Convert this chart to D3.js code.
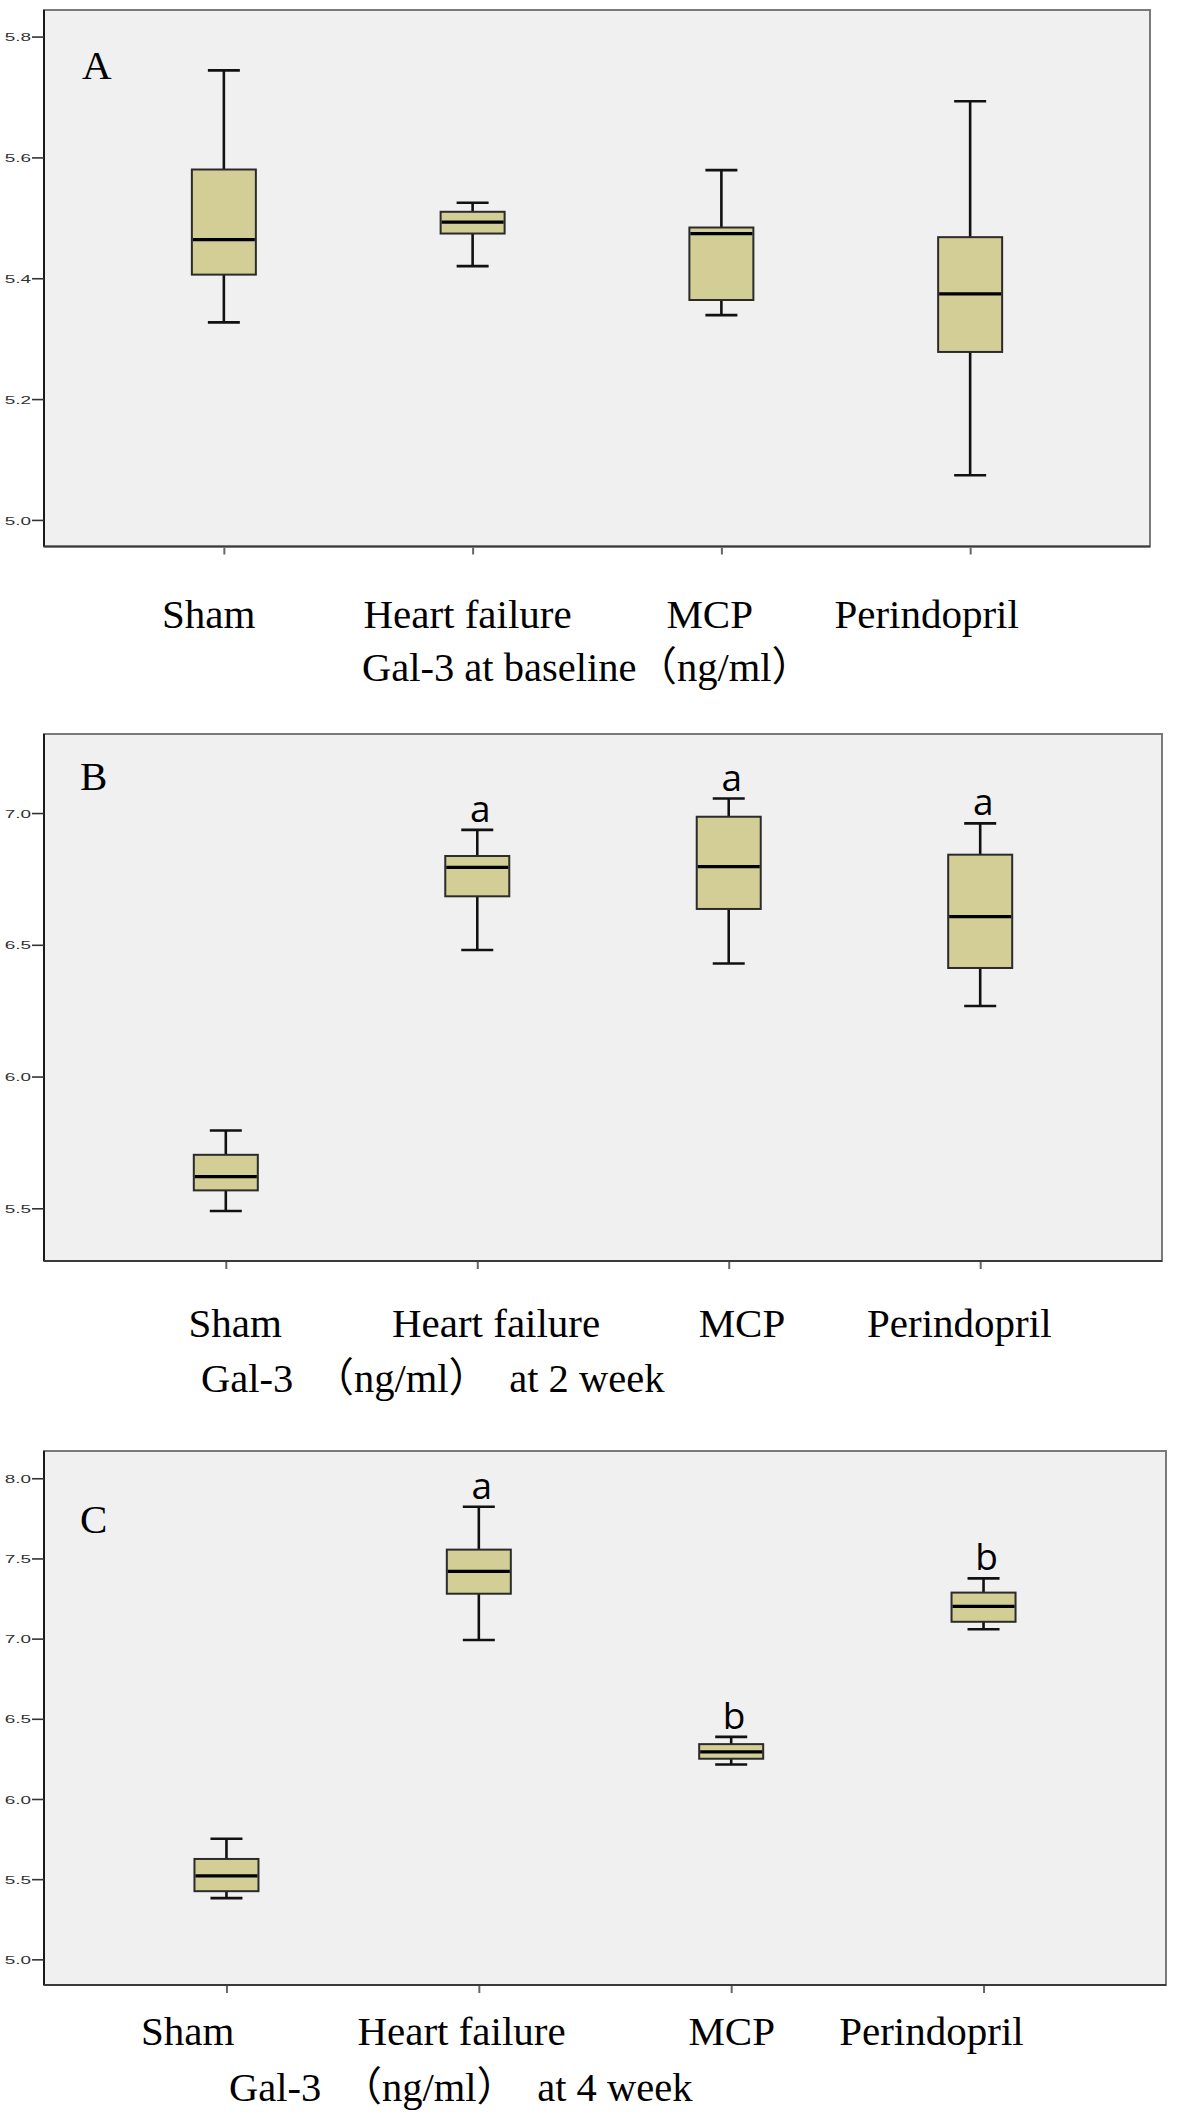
<!DOCTYPE html>
<html>
<head>
<meta charset="utf-8">
<title>Gal-3 box plots</title>
<script src="https://d3js.org/d3.v7.min.js"></script>
<style>
  * { margin: 0; padding: 0; }
  body { background: #fff; }
  .axis-title { white-space: pre; }
</style>
</head>
<body>
<div id="chart"></div>
<script>
// groups and panel texts
const categories = ["Sham", "Heart failure", "MCP", "Perindopril"];
const panelLetters = ["A", "B", "C"];
const axisTitles = ["Gal-3 at baseline（ng/ml）", "Gal-3  （ng/ml）  at 2 week", "Gal-3  （ng/ml）  at 4 week"];

// box statistics (min whisker, Q1, median, Q3, max whisker)
const lowA = [5.327, 5.420, 5.339, 5.074];
const q1A  = [5.406, 5.474, 5.364, 5.278];
const medA = [5.464, 5.493, 5.474, 5.374];
const q3A  = [5.580, 5.510, 5.484, 5.468];
const highA = [5.744, 5.525, 5.579, 5.693];

const lowB = [5.490, 6.480, 6.429, 6.268];
const q1B  = [5.568, 6.684, 6.636, 6.412];
const medB = [5.620, 6.794, 6.797, 6.607];
const q3B  = [5.703, 6.837, 6.986, 6.842];
const highB = [5.795, 6.936, 7.055, 6.961];

const lowC = [5.382, 6.991, 6.215, 7.058];
const q1C  = [5.425, 7.280, 6.251, 7.105];
const medC = [5.520, 7.419, 6.294, 7.201];
const q3C  = [5.626, 7.555, 6.342, 7.287];
const highC = [5.752, 7.822, 6.387, 7.376];

// significance marks
const sigA = ["", "", "", ""];
const sigB = ["", "a", "a", "a"];
const sigC = ["", "a", "b", "b"];

// tick labels
const ticksA = [5.0, 5.2, 5.4, 5.6, 5.8];
const ticksB = [5.5, 6.0, 6.5, 7.0];
const ticksC = [5.0, 5.5, 6.0, 6.5, 7.0, 7.5, 8.0];

// y domains
const domainA = [4.956, 5.844];
const domainB = [5.30, 7.30];
const domainC = [4.84, 8.17];

// layout (pixels) kept apart from the data
const W = 1177, H = 2114;
const layouts = [
  { top: 10,   bottom: 546.5, left: 44, right: 1150, letter: [82, 69],   labelDy: 81, labelDx: [-15.6, -5.6, -12.2, -44], titleX: 362, titleDy: 134 },
  { top: 734,  bottom: 1261,  left: 44, right: 1162, letter: [80, 55.5], labelDy: 76, labelDx: [8.8, 18.3, 12.7, -21.4], titleX: 201, titleDy: 131 },
  { top: 1451, bottom: 1985,  left: 44, right: 1166, letter: [80, 81.5], labelDy: 59.5, labelDx: [-39.3, -17.8, 0, -52.6], titleX: 229, titleDy: 115.5 }
];

const panels = [
  { low: lowA, q1: q1A, med: medA, q3: q3A, high: highA, sig: sigA, ticks: ticksA, domain: domainA },
  { low: lowB, q1: q1B, med: medB, q3: q3B, high: highB, sig: sigB, ticks: ticksB, domain: domainB },
  { low: lowC, q1: q1C, med: medC, q3: q3C, high: highC, sig: sigC, ticks: ticksC, domain: domainC }
];

const boxW = 64, capW = 32;
const serif = "'Liberation Serif', 'Times New Roman', serif";

const svg = d3.select("#chart").append("svg")
  .attr("width", W).attr("height", H)
  .attr("viewBox", `0 0 ${W} ${H}`)
  .style("background", "#fff");

panels.forEach((p, pi) => {
  const L = layouts[pi];
  const g = svg.append("g").attr("class", "panel");

  const x = d3.scalePoint().domain(categories).range([L.left, L.right]).padding(0.723);
  const y = d3.scaleLinear().domain(p.domain).range([L.bottom, L.top]);

  // plot frame
  g.append("rect")
    .attr("x", L.left).attr("y", L.top)
    .attr("width", L.right - L.left).attr("height", L.bottom - L.top)
    .attr("fill", "#f0f0f0").attr("stroke", "#7a7a7a").attr("stroke-width", 2);
  g.append("line").attr("x1", L.left).attr("x2", L.left).attr("y1", L.top).attr("y2", L.bottom)
    .attr("stroke", "#1a1a1a").attr("stroke-width", 2);
  g.append("line").attr("x1", L.left).attr("x2", L.right).attr("y1", L.bottom).attr("y2", L.bottom)
    .attr("stroke", "#3a3a3a").attr("stroke-width", 2);

  // y axis
  const ya = g.append("g")
    .attr("transform", `translate(${L.left},0)`)
    .call(d3.axisLeft(y).tickValues(p.ticks).tickSize(12).tickFormat(d3.format(".1f")));
  ya.select(".domain").remove();
  ya.selectAll(".tick line").attr("stroke", "#333").attr("stroke-width", 1.6);
  ya.selectAll(".tick text")
    .attr("x", 0).attr("dy", "0.36em")
    .attr("transform", "translate(-13,0) scale(1.65,1)")
    .style("font-family", "'Liberation Sans', Arial, sans-serif")
    .style("font-size", "11.5px")
    .attr("fill", "#333");

  // x axis
  const xa = g.append("g")
    .attr("transform", `translate(0,${L.bottom})`)
    .call(d3.axisBottom(x).tickSize(8));
  xa.select(".domain").remove();
  xa.selectAll(".tick line").attr("stroke", "#666").attr("stroke-width", 2).attr("y1", 1);
  xa.selectAll(".tick text")
    .attr("x", (d, i) => L.labelDx[i])
    .attr("y", L.labelDy).attr("dy", 0)
    .style("font-family", serif)
    .style("font-size", "41px")
    .attr("fill", "#000");

  // axis title
  g.append("text")
    .attr("class", "axis-title")
    .attr("x", L.titleX).attr("y", L.bottom + L.titleDy)
    .attr("xml:space", "preserve")
    .style("font-family", serif + ", 'Noto Sans CJK SC'")
    .style("font-size", "40.5px")
    .attr("fill", "#000")
    .text(axisTitles[pi]);

  // panel letter
  g.append("text")
    .attr("x", L.letter[0]).attr("y", L.top + L.letter[1])
    .style("font-family", serif)
    .style("font-size", "41px")
    .attr("fill", "#000")
    .text(panelLetters[pi]);

  // boxes
  const boxes = g.selectAll(".box").data(categories).join("g").attr("class", "box");

  boxes.append("line")
    .attr("x1", c => x(c)).attr("x2", c => x(c))
    .attr("y1", (c, i) => y(p.high[i])).attr("y2", (c, i) => y(p.q3[i]))
    .attr("stroke", "#111").attr("stroke-width", 2.6);
  boxes.append("line")
    .attr("x1", c => x(c)).attr("x2", c => x(c))
    .attr("y1", (c, i) => y(p.q1[i])).attr("y2", (c, i) => y(p.low[i]))
    .attr("stroke", "#111").attr("stroke-width", 2.6);

  ["high", "low"].forEach(k => {
    boxes.append("line")
      .attr("x1", c => x(c) - capW / 2).attr("x2", c => x(c) + capW / 2)
      .attr("y1", (c, i) => y(p[k][i])).attr("y2", (c, i) => y(p[k][i]))
      .attr("stroke", "#111").attr("stroke-width", 2.6);
  });

  boxes.append("rect")
    .attr("x", c => x(c) - boxW / 2).attr("width", boxW)
    .attr("y", (c, i) => y(p.q3[i]))
    .attr("height", (c, i) => y(p.q1[i]) - y(p.q3[i]))
    .attr("fill", "#d3ce96").attr("stroke", "#2b2b2b").attr("stroke-width", 2);

  boxes.append("line")
    .attr("x1", c => x(c) - boxW / 2 + 1).attr("x2", c => x(c) + boxW / 2 - 1)
    .attr("y1", (c, i) => y(p.med[i])).attr("y2", (c, i) => y(p.med[i]))
    .attr("stroke", "#000").attr("stroke-width", 3.2);

  boxes.append("text")
    .attr("x", c => x(c) + 3)
    .attr("y", (c, i) => y(p.high[i]) - 8)
    .attr("text-anchor", "middle")
    .style("font-family", "'Open Sans', 'Noto Sans', sans-serif")
    .style("font-size", "37px")
    .attr("fill", "#000")
    .text((c, i) => p.sig[i]);
});
</script>
</body>
</html>
